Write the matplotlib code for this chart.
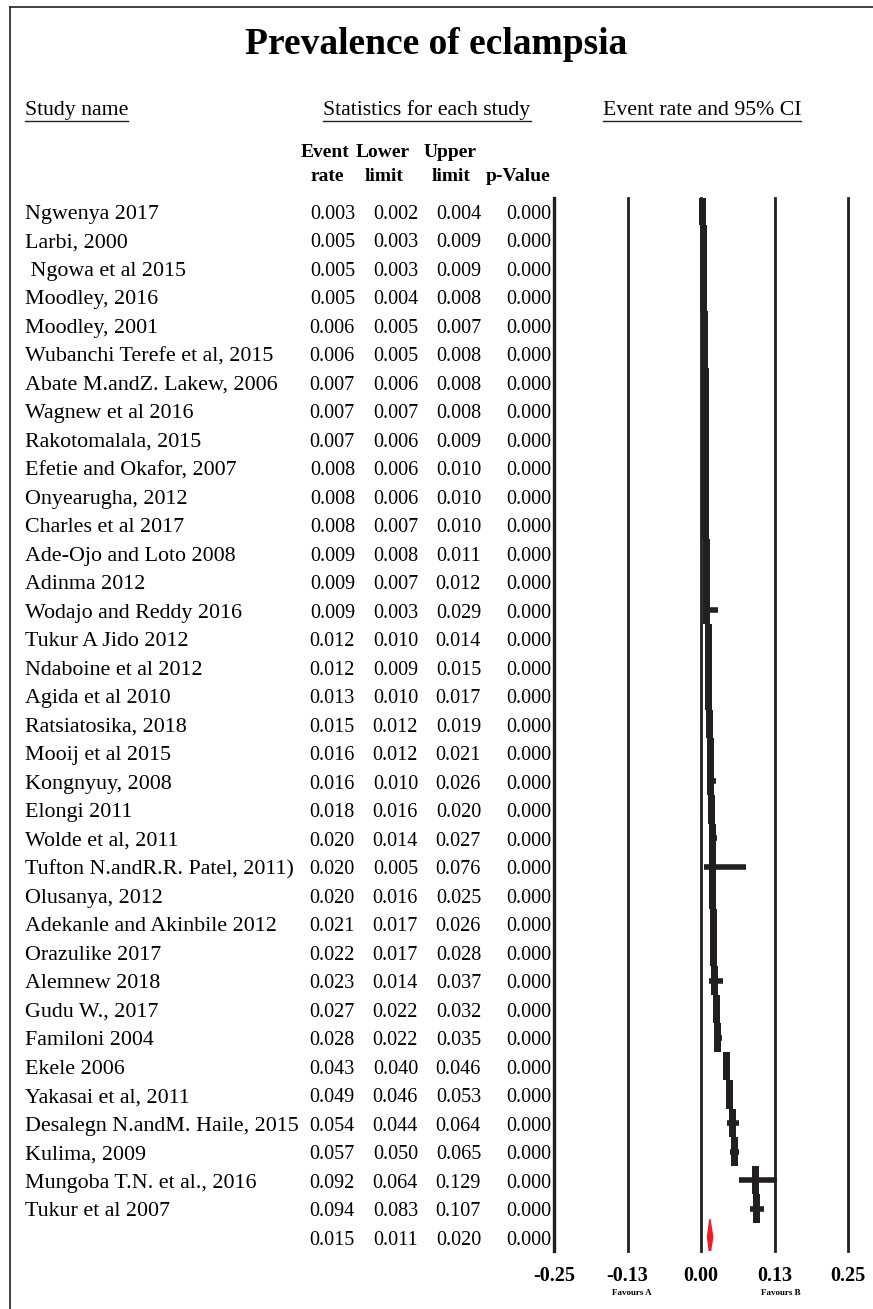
import matplotlib
matplotlib.use("Agg")
import matplotlib.pyplot as plt
from matplotlib.transforms import blended_transform_factory
from matplotlib.lines import Line2D

studies = ["Ngwenya 2017", "Larbi, 2000", " Ngowa et al 2015", "Moodley, 2016", "Moodley, 2001",
           "Wubanchi Terefe et al, 2015", "Abate M.andZ. Lakew, 2006", "Wagnew et al 2016",
           "Rakotomalala, 2015", "Efetie and Okafor, 2007", "Onyearugha, 2012", "Charles et al 2017",
           "Ade-Ojo and Loto 2008", "Adinma 2012", "Wodajo and Reddy 2016", "Tukur A Jido 2012",
           "Ndaboine et al 2012", "Agida et al 2010", "Ratsiatosika, 2018", "Mooij et al 2015",
           "Kongnyuy, 2008", "Elongi 2011", "Wolde et al, 2011", "Tufton N.andR.R. Patel, 2011)",
           "Olusanya, 2012", "Adekanle and Akinbile 2012", "Orazulike 2017", "Alemnew 2018",
           "Gudu W., 2017", "Familoni 2004", "Ekele 2006", "Yakasai et al, 2011",
           "Desalegn N.andM. Haile, 2015", "Kulima, 2009", "Mungoba T.N. et al., 2016", "Tukur et al 2007"]
event_rate = [0.003, 0.005, 0.005, 0.005, 0.006, 0.006, 0.007, 0.007, 0.007, 0.008, 0.008, 0.008,
              0.009, 0.009, 0.009, 0.012, 0.012, 0.013, 0.015, 0.016, 0.016, 0.018, 0.020, 0.020,
              0.020, 0.021, 0.022, 0.023, 0.027, 0.028, 0.043, 0.049, 0.054, 0.057, 0.092, 0.094]
lower = [0.002, 0.003, 0.003, 0.004, 0.005, 0.005, 0.006, 0.007, 0.006, 0.006, 0.006, 0.007,
         0.008, 0.007, 0.003, 0.010, 0.009, 0.010, 0.012, 0.012, 0.010, 0.016, 0.014, 0.005,
         0.016, 0.017, 0.017, 0.014, 0.022, 0.022, 0.040, 0.046, 0.044, 0.050, 0.064, 0.083]
upper = [0.004, 0.009, 0.009, 0.008, 0.007, 0.008, 0.008, 0.008, 0.009, 0.010, 0.010, 0.010,
         0.011, 0.012, 0.029, 0.014, 0.015, 0.017, 0.019, 0.021, 0.026, 0.020, 0.027, 0.076,
         0.025, 0.026, 0.028, 0.037, 0.032, 0.035, 0.046, 0.053, 0.064, 0.065, 0.129, 0.107]
p_value = [0.000] * 36
summary = (0.015, 0.011, 0.020, 0.000)
tick_vals = [-0.25, -0.125, 0.0, 0.125, 0.25]
tick_labels = ["-0.25", "-0.13", "0.00", "0.13", "0.25"]

W, H = 873, 1309
fig = plt.figure(figsize=(W / 100, H / 100), dpi=100)
plt.rcParams['font.family'] = ['Liberation Serif', 'DejaVu Serif']

def fx(px):
    return px / W

def fy(py):
    return 1 - py / H

row0 = 211.0
step = 28.5
ytop, ybot = -0.46, 36.48
top_px = row0 + ytop * step
bot_px = row0 + ybot * step
ax = fig.add_axes([fx(554), fy(bot_px), fx(848) - fx(554), (bot_px - top_px) / H])
ax.set_xlim(-0.25, 0.25)
ax.set_ylim(ybot, ytop)
for s in ax.spines.values():
    s.set_visible(False)
ax.set_yticks([])
ax.set_xticks(tick_vals)
ax.set_xticklabels(tick_labels, fontsize=14.5, fontweight='bold')
ax.tick_params(axis='x', length=0, pad=11)

ink = '#231f20'
for i, t in enumerate(tick_vals):
    ax.axvline(t, color=ink, lw=2.4 if i == 0 else 2.0, clip_on=False, zorder=1)

rows = list(range(len(studies)))
ax.hlines(rows, lower, upper, color=ink, lw=4, zorder=3)
mw = 0.0118
ax.barh(rows, [mw] * len(rows), left=[r - mw / 2 for r in event_rate], height=1.0,
        color=ink, zorder=4)
srow = len(studies)
se, sl, su, sp = summary
ax.fill([sl, se, su, se], [srow, srow - 0.63, srow, srow + 0.63], color='#ee1c24', zorder=5)

# Favours labels
fav_tr = blended_transform_factory(ax.transData, fig.transFigure)
ax.text(-0.118, fy(1295), "Favours A", transform=fav_tr,
        fontsize=6.5, fontweight='bold', ha='center', va='baseline')
ax.text(0.135, fy(1295), "Favours B", transform=fav_tr,
        fontsize=6.5, fontweight='bold', ha='center', va='baseline')

# table text
tr = blended_transform_factory(fig.transFigure, ax.transData)
boff = 0.28
col_right = [355, 418, 481, 551]
for i, name in enumerate(studies):
    y = i + boff
    fig.text(fx(25), y, name, transform=tr, fontsize=15.8, ha='left', va='baseline')
    vals = [event_rate[i], lower[i], upper[i], p_value[i]]
    for xr, v in zip(col_right, vals):
        fig.text(fx(xr), y, f"{v:.3f}", transform=tr, fontsize=14.5, ha='right', va='baseline')
for xr, v in zip(col_right, summary):
    fig.text(fx(xr), srow + boff, f"{v:.3f}", transform=tr, fontsize=14.5, ha='right', va='baseline')

# headers
fig.text(0.5, fy(54), "Prevalence of eclampsia", fontsize=27, fontweight='bold',
         ha='center', va='baseline')
hdrs = [(25, 'left', "Study name"), (427, 'center', "Statistics for each study"),
        (702, 'center', "Event rate and 95% CI")]
htexts = []
for x, ha, s in hdrs:
    htexts.append(fig.text(fx(x), fy(115), s, fontsize=15.7, ha=ha, va='baseline'))
fig.canvas.draw()
r = fig.canvas.get_renderer()
for t in htexts:
    bb = t.get_window_extent(r)
    fig.add_artist(Line2D([bb.x0 / W, bb.x1 / W], [fy(121), fy(121)], color=ink, lw=1.0,
                          transform=fig.transFigure))

for x, s in [(325, "Event"), (383, "Lower"), (450, "Upper")]:
    fig.text(fx(x), fy(157), s, fontsize=14, fontweight='bold', ha='center', va='baseline')
for x, s in [(327, "rate"), (384, "limit"), (451, "limit"), (518, "p-Value")]:
    fig.text(fx(x), fy(181), s, fontsize=14, fontweight='bold', ha='center', va='baseline')

# frame lines
fig.add_artist(Line2D([fx(10), 1.0], [fy(7), fy(7)], color=ink, lw=1.2, transform=fig.transFigure))
fig.add_artist(Line2D([fx(10), fx(10)], [fy(7), 0.0], color=ink, lw=1.2, transform=fig.transFigure))

fig.savefig("out.png", dpi=100)
